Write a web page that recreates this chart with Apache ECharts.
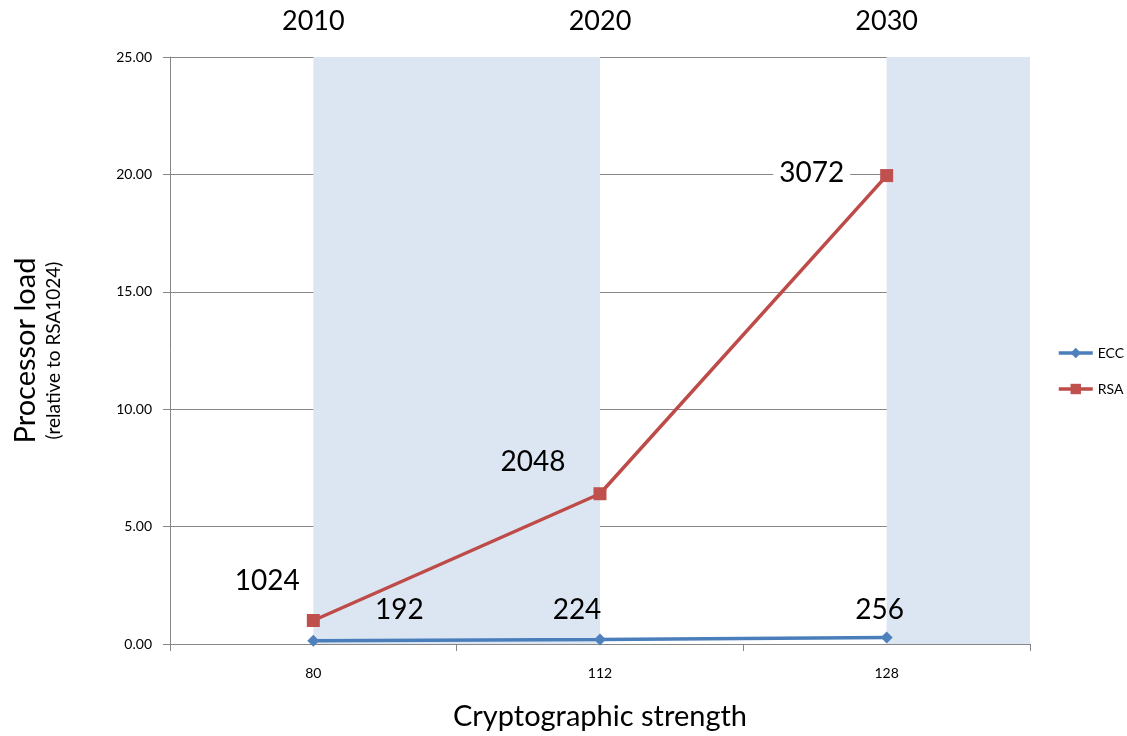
<!DOCTYPE html>
<html>
<head>
<meta charset="utf-8">
<script src="https://cdn.jsdelivr.net/npm/echarts@6/dist/echarts.min.js"></script>
<style>
  html, body { margin: 0; padding: 0; background: #fff; }
  #chart { width: 1127px; height: 736px; }
</style>
</head>
<body>
<div id="chart"></div>
<script>
// data
const categories = ['80', '112', '128']
const years = ['2010', '2020', '2030']
const ecc = [0.14, 0.19, 0.28]
const rsa = [1.0, 6.4, 19.95]
const eccKeys = ['192', '224', '256']
const rsaKeys = ['1024', '2048', '3072']
// shaded periods, from category to category (null = to the end)
const bands = [['80', '112'], ['128', null]]

const font = 'Lato, "Open Sans", sans-serif'

// where each key-size label sits relative to its point
const eccOffsets = [[86, -31], [-23, -30], [-7, -27]]
const rsaOffsets = [[-46, -40], [-67, -32], [-75, -3]]

function withLabels(values, keys, offsets, lastExtra) {
  return values.map((v, i) => ({
    value: v,
    label: Object.assign({
      show: true,
      position: 'inside',
      offset: offsets[i],
      formatter: keys[i],
      fontSize: 28,
      fontFamily: font,
      color: '#000'
    }, i === values.length - 1 && lastExtra ? lastExtra : {})
  }))
}

const chart = echarts.init(document.getElementById('chart'))
chart.setOption({
  animation: false,
  textStyle: { fontFamily: font },
  grid: { left: 170, right: 97, top: 57, bottom: 92, containLabel: false, outerBoundsMode: 'none' },
  legend: {
    orient: 'vertical',
    left: 1057,
    top: 346,
    padding: 0,
    itemWidth: 34,
    itemHeight: 13,
    itemGap: 22,
    lineStyle: { width: 3.5 },
    textStyle: { fontSize: 14, color: '#000', fontFamily: font },
    data: ['ECC', 'RSA']
  },
  xAxis: [
    {
      type: 'category',
      data: categories,
      position: 'bottom',
      name: 'Cryptographic strength',
      nameLocation: 'middle',
      nameGap: 58,
      nameTextStyle: { fontSize: 29, color: '#000', fontFamily: font },
      axisLine: { lineStyle: { color: '#868686', width: 1 } },
      axisTick: { show: true, length: 7, lineStyle: { color: '#868686' } },
      axisLabel: { fontSize: 14, color: '#000', margin: 22 },
      splitLine: { show: false }
    },
    {
      type: 'category',
      data: years,
      position: 'top',
      axisLine: { show: false },
      axisTick: { show: false },
      axisLabel: { fontSize: 27, color: '#000', margin: 22 },
      splitLine: { show: false }
    }
  ],
  yAxis: {
    type: 'value',
    min: 0,
    max: 25,
    interval: 5,
    name: '{a|Processor load}\n{b|(relative to RSA1024)}',
    nameLocation: 'middle',
    nameRotate: 90,
    nameGap: 104,
    nameTextStyle: {
      color: '#000',
      rich: {
        a: { fontSize: 29, fontFamily: font, color: '#000', lineHeight: 32 },
        b: { fontSize: 19, fontFamily: font, color: '#000', lineHeight: 24 }
      }
    },
    axisLine: { show: true, lineStyle: { color: '#868686', width: 1 } },
    axisTick: { show: true, length: 7, lineStyle: { color: '#868686' } },
    axisLabel: {
      fontSize: 14,
      color: '#000',
      margin: 18,
      formatter: v => v.toFixed(2)
    },
    splitLine: { show: true, lineStyle: { color: '#868686', width: 1 } }
  },
  series: [
    {
      name: 'ECC',
      type: 'line',
      z: 3,
      data: withLabels(ecc, eccKeys, eccOffsets),
      symbol: 'diamond',
      symbolSize: 12,
      lineStyle: { color: '#4a7ebb', width: 3.5 },
      itemStyle: { color: '#4f81bd' },
      markArea: {
        silent: true,
        itemStyle: { color: '#dce6f2' },
        data: bands.map(([a, b]) => [{ xAxis: a }, b ? { xAxis: b } : {}])
      }
    },
    {
      name: 'RSA',
      type: 'line',
      z: 3,
      // the 3072 label sits on a white patch over the gridline
      data: withLabels(rsa, rsaKeys, rsaOffsets, { backgroundColor: '#fff', padding: [0, 6] }),
      symbol: 'rect',
      symbolSize: 13,
      lineStyle: { color: '#be4b48', width: 3.5 },
      itemStyle: { color: '#c0504d' }
    }
  ]
})
</script>
</body>
</html>
